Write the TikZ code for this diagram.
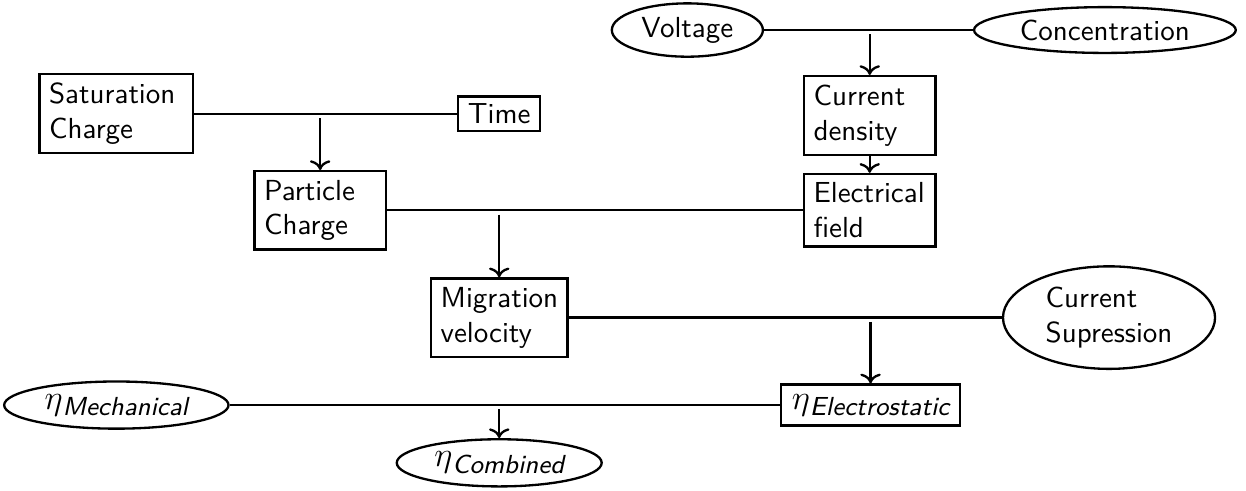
\documentclass[tikz,border=0pt]{standalone}
\usepackage{tikz}
\usetikzlibrary{arrows.meta,shapes.geometric}
\newcommand{\etasub}[1]{{\fontsize{11.5}{13}\selectfont$\eta$}\raisebox{-2.2pt}{\small\itshape #1}}
\tikzset{
  blk/.style={draw,align=left,inner ysep=3pt,text width=1.36cm},
  oval/.style={draw,ellipse,inner xsep=2.6pt,inner ysep=2pt},
}

\begin{document}
\begin{tikzpicture}[>=To,thick,font=\sffamily]
\useasboundingbox (0,0) rectangle (15.10,5.939);
\node[oval] (volt) at (8.33,5.575) {Voltage};
\node[oval] (conc) at (13.39,5.575) {Concentration};
\node[blk] (cd) at (10.54,4.54) {Current\\density};
\node[blk] (ef) at (10.54,3.39) {Electrical\\field};
\node[blk,text width=1.63cm] (sat) at (1.41,4.56) {Saturation\\Charge};
\node[draw,inner ysep=2.5pt] (time) at (6.05,4.56) {Time};
\node[blk] (pc) at (3.88,3.39) {Particle\\Charge};
\node[blk,text width=1.42cm] (mig) at (6.05,2.09) {Migration\\velocity};
\node[oval,align=left,minimum width=2.57cm] (cs) at (13.44,2.09) {Current\\Supression};
\node[draw,minimum width=2.17cm,minimum height=0.44cm] (elec) at (10.55,1.03) {\etasub{Electrostatic}};
\node[oval] (mech) at (1.41,1.03) {\etasub{Mechanical}};
\node[oval] (comb) at (6.05,0.33) {\etasub{Combined}};
\draw (volt) -- (conc);
\draw[->] ([yshift=-1.5pt]cd.north |- volt.east) -- (cd);
\draw[->] (cd) -- (ef);
\draw (sat) -- (time);
\draw[->] ([yshift=-1.5pt]pc.north |- time.west) -- (pc);
\draw (pc) -- (ef);
\draw[->] ([yshift=-1.5pt]mig.north |- pc.east) -- (mig);
\draw (mig) -- (cs);
\draw[->] ([yshift=-1.5pt]elec.north |- mig.east) -- (elec);
\draw (mech) -- (elec);
\draw[->] ([yshift=-1.5pt]comb.north |- mech.east) -- (comb);
\end{tikzpicture}
\end{document}
